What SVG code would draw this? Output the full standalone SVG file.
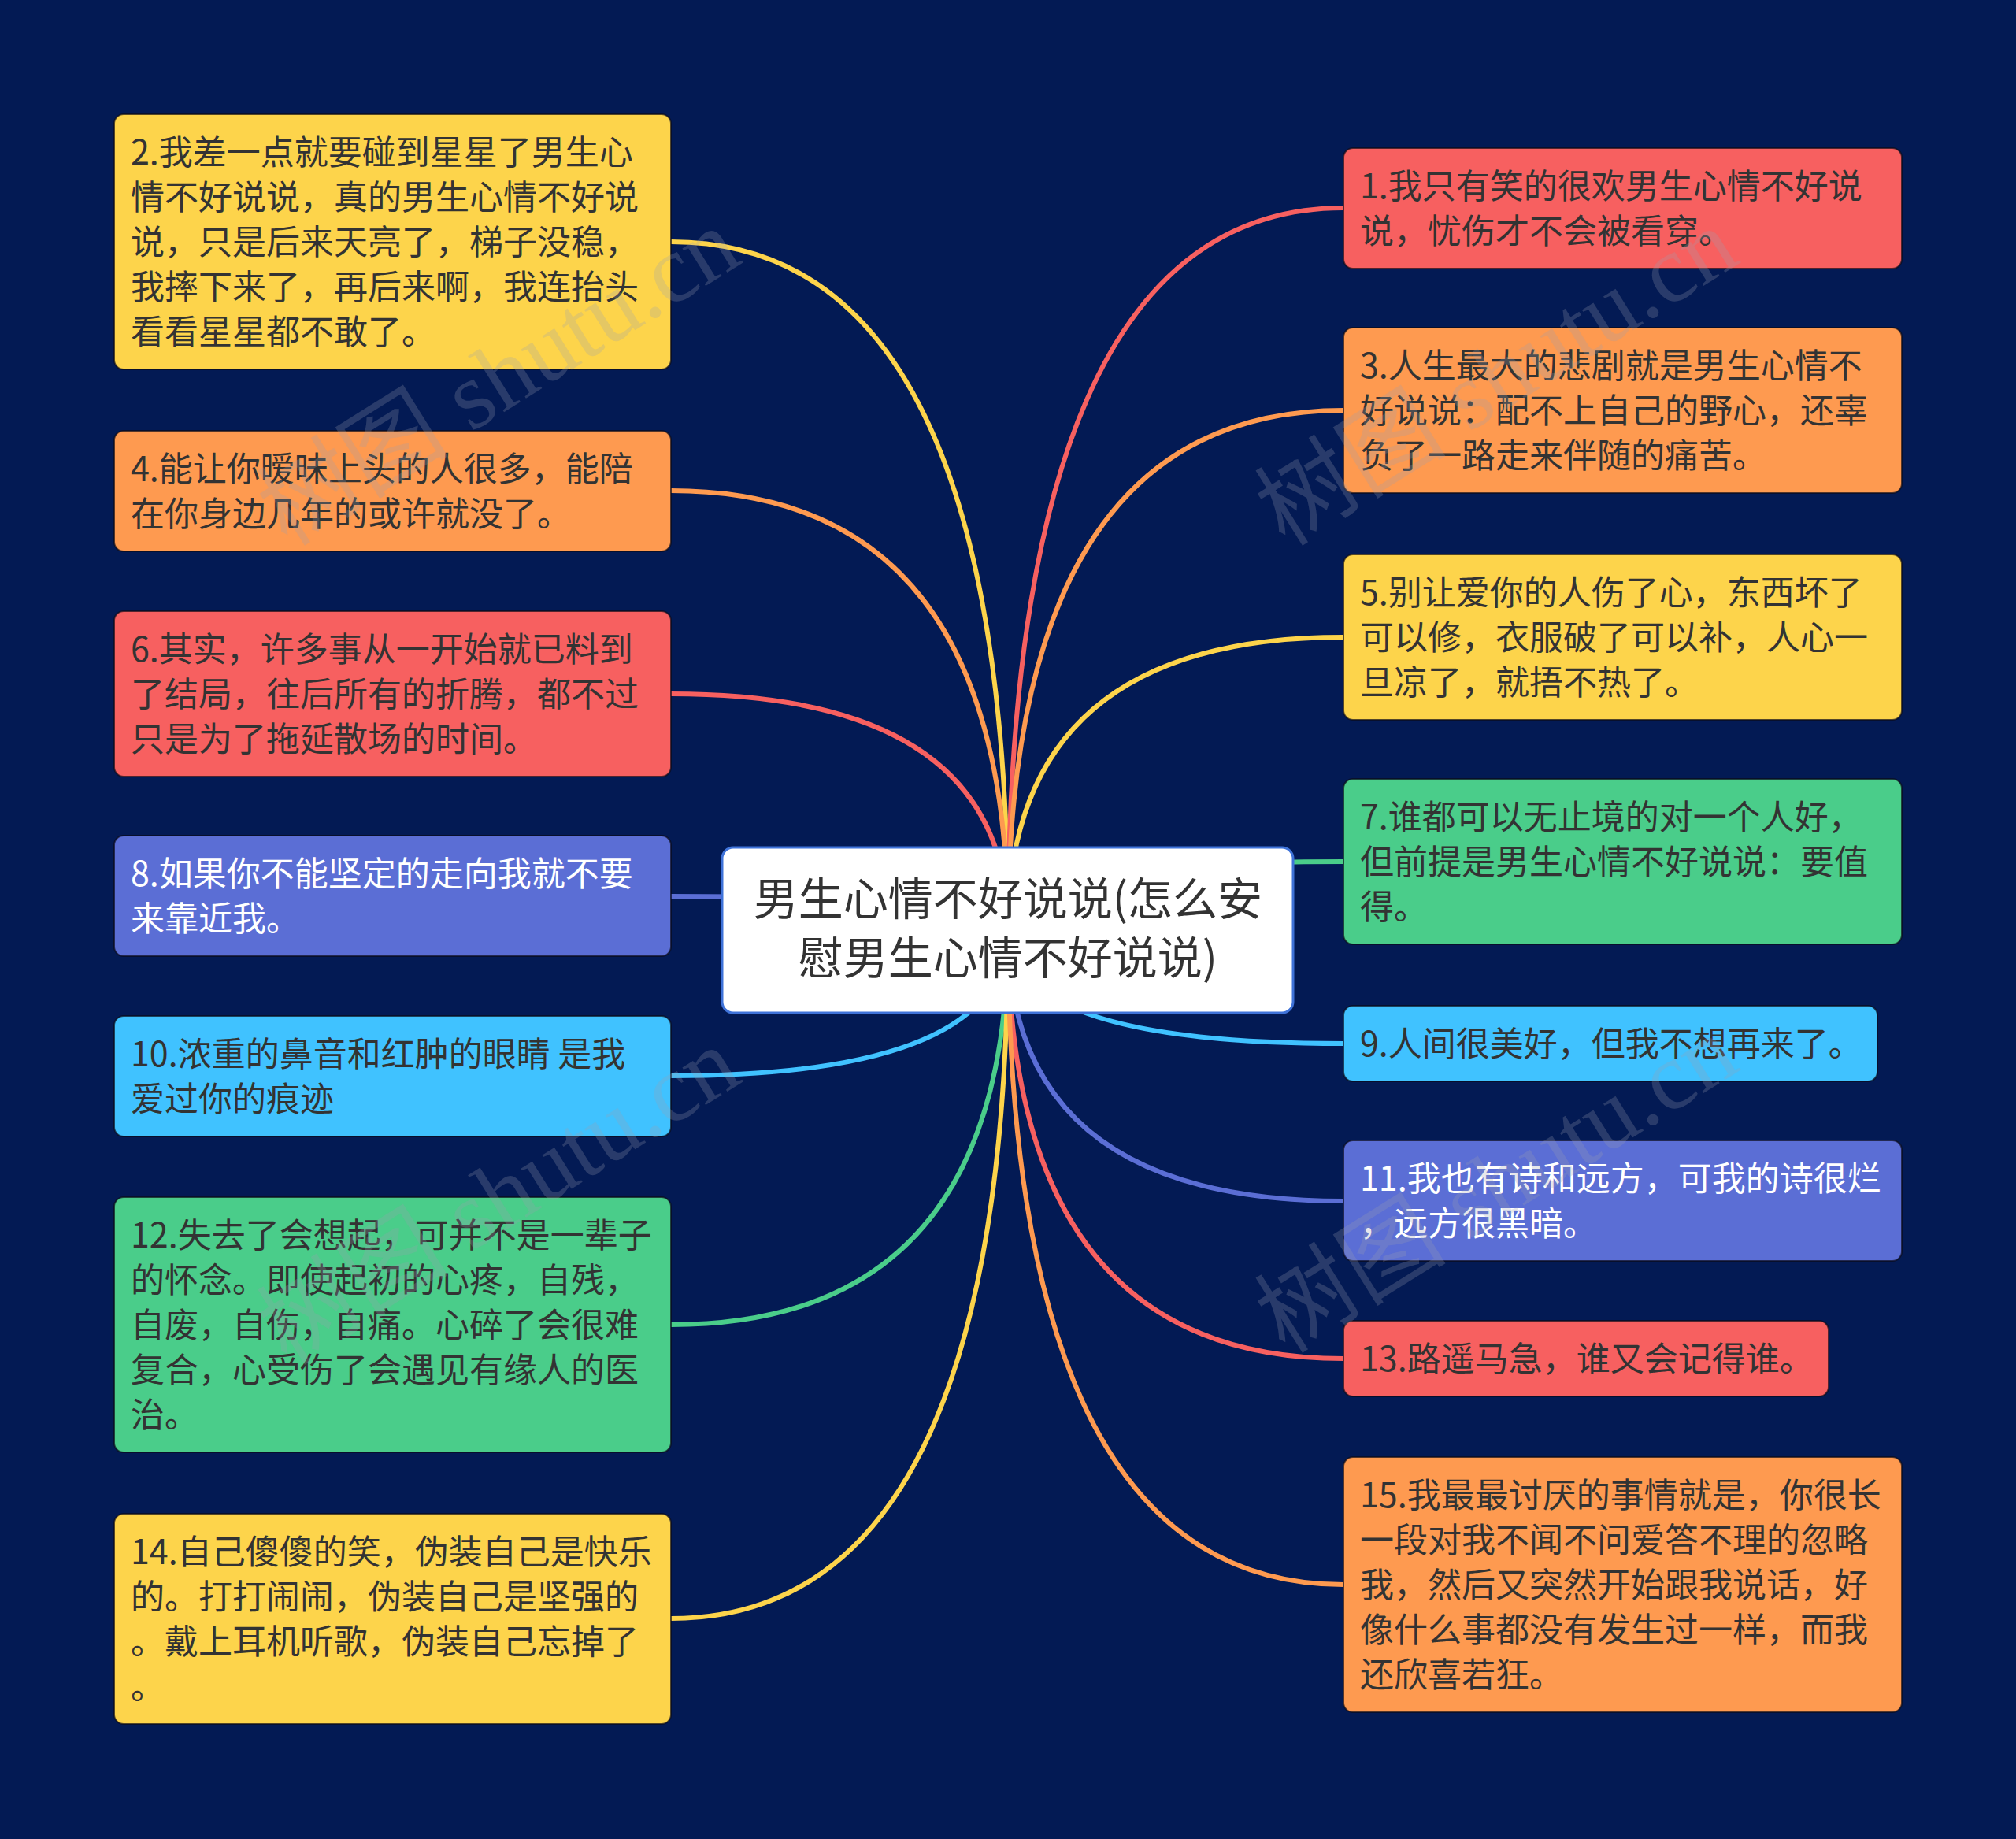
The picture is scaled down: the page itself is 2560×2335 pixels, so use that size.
<svg xmlns="http://www.w3.org/2000/svg" width="2560" height="2335" viewBox="0 0 2560 2335">
<defs>
<style>
.bg{fill:#031a54}
.c{fill:none;stroke-width:6;stroke-linecap:round}
.box{stroke:#0b0b1a;stroke-width:2;stroke-opacity:0.7}
.t{font-family:"Noto Sans CJK SC","Noto Sans",sans-serif;font-size:43px;fill:#333333}
.tw{fill:#ffffff}
.ct{font-family:"Noto Sans CJK SC","Noto Sans",sans-serif;font-size:57px;fill:#333333;text-anchor:middle}
.wm{font-family:"Liberation Serif","Noto Sans CJK SC",serif;font-size:122px;fill:#9aa0b0;fill-opacity:0.25}
.y{fill:#fdd44b}.o{fill:#fe9a50}.r{fill:#f76060}.b{fill:#5b6ed5}.cy{fill:#40c2ff}.g{fill:#4acd8a}
</style>
</defs>
<rect class="bg" x="0" y="0" width="2560" height="2335"/>
<g id="connectors">
<path class="c" stroke="#fdd44b" d="M1280,1181 Q1280,307 852,307"/>
<path class="c" stroke="#fe9a50" d="M1280,1181 Q1280,623 852,623"/>
<path class="c" stroke="#f76060" d="M1280,1181 Q1280,881 852,881"/>
<path class="c" stroke="#5b6ed5" d="M1280,1181 Q1280,1138 852,1138"/>
<path class="c" stroke="#40c2ff" d="M1280,1181 Q1280,1366 852,1366"/>
<path class="c" stroke="#4acd8a" d="M1280,1181 Q1280,1682 852,1682"/>
<path class="c" stroke="#fdd44b" d="M1280,1181 Q1280,2055 852,2055"/>
<path class="c" stroke="#f76060" d="M1280,1181 Q1280,264 1706,264"/>
<path class="c" stroke="#fe9a50" d="M1280,1181 Q1280,521 1706,521"/>
<path class="c" stroke="#fdd44b" d="M1280,1181 Q1280,809 1706,809"/>
<path class="c" stroke="#4acd8a" d="M1280,1181 Q1280,1094 1706,1094"/>
<path class="c" stroke="#40c2ff" d="M1280,1181 Q1280,1325 1706,1325"/>
<path class="c" stroke="#5b6ed5" d="M1280,1181 Q1280,1525 1706,1525"/>
<path class="c" stroke="#f76060" d="M1280,1181 Q1280,1725 1706,1725"/>
<path class="c" stroke="#fe9a50" d="M1280,1181 Q1280,2012 1706,2012"/>
</g>
<g id="center">
<rect x="917" y="1076" width="725" height="210" rx="14" fill="#ffffff" stroke="#3f73d9" stroke-width="3"/>
<text class="ct" x="1280" y="1162">男生心情不好说说(怎么安</text>
<text class="ct" x="1280" y="1237">慰男生心情不好说说)</text>
</g>
<g id="n2">
<rect class="box y" x="145" y="145" width="707" height="324" rx="12"/>
<text class="t"><tspan x="166" y="209">2.我差一点就要碰到星星了男生心</tspan><tspan x="166" y="266">情不好说说，真的男生心情不好说</tspan><tspan x="166" y="323">说，只是后来天亮了，梯子没稳，</tspan><tspan x="166" y="380">我摔下来了，再后来啊，我连抬头</tspan><tspan x="166" y="437">看看星星都不敢了。</tspan></text>
</g>
<g id="n4">
<rect class="box o" x="145" y="547" width="707" height="153" rx="12"/>
<text class="t"><tspan x="166" y="611">4.能让你暧昧上头的人很多，能陪</tspan><tspan x="166" y="668">在你身边几年的或许就没了。</tspan></text>
</g>
<g id="n6">
<rect class="box r" x="145" y="776" width="707" height="210" rx="12"/>
<text class="t"><tspan x="166" y="840">6.其实，许多事从一开始就已料到</tspan><tspan x="166" y="897">了结局，往后所有的折腾，都不过</tspan><tspan x="166" y="954">只是为了拖延散场的时间。</tspan></text>
</g>
<g id="n8">
<rect class="box b" x="145" y="1061" width="707" height="153" rx="12"/>
<text class="t tw"><tspan x="166" y="1125">8.如果你不能坚定的走向我就不要</tspan><tspan x="166" y="1182">来靠近我。</tspan></text>
</g>
<g id="n10">
<rect class="box cy" x="145" y="1290" width="707" height="153" rx="12"/>
<text class="t"><tspan x="166" y="1354">10.浓重的鼻音和红肿的眼睛 是我</tspan><tspan x="166" y="1411">爱过你的痕迹</tspan></text>
</g>
<g id="n12">
<rect class="box g" x="145" y="1520" width="707" height="324" rx="12"/>
<text class="t"><tspan x="166" y="1584">12.失去了会想起，可并不是一辈子</tspan><tspan x="166" y="1641">的怀念。即使起初的心疼，自残，</tspan><tspan x="166" y="1698">自废，自伤，自痛。心碎了会很难</tspan><tspan x="166" y="1755">复合，心受伤了会遇见有缘人的医</tspan><tspan x="166" y="1812">治。</tspan></text>
</g>
<g id="n14">
<rect class="box y" x="145" y="1922" width="707" height="267" rx="12"/>
<text class="t"><tspan x="166" y="1986">14.自己傻傻的笑，伪装自己是快乐</tspan><tspan x="166" y="2043">的。打打闹闹，伪装自己是坚强的</tspan><tspan x="166" y="2100">。戴上耳机听歌，伪装自己忘掉了</tspan><tspan x="166" y="2157">。</tspan></text>
</g>
<g id="n1">
<rect class="box r" x="1706" y="188" width="709" height="153" rx="12"/>
<text class="t"><tspan x="1727" y="252">1.我只有笑的很欢男生心情不好说</tspan><tspan x="1727" y="309">说，忧伤才不会被看穿。</tspan></text>
</g>
<g id="n3">
<rect class="box o" x="1706" y="416" width="709" height="210" rx="12"/>
<text class="t"><tspan x="1727" y="480">3.人生最大的悲剧就是男生心情不</tspan><tspan x="1727" y="537">好说说：配不上自己的野心，还辜</tspan><tspan x="1727" y="594">负了一路走来伴随的痛苦。</tspan></text>
</g>
<g id="n5">
<rect class="box y" x="1706" y="704" width="709" height="210" rx="12"/>
<text class="t"><tspan x="1727" y="768">5.别让爱你的人伤了心，东西坏了</tspan><tspan x="1727" y="825">可以修，衣服破了可以补，人心一</tspan><tspan x="1727" y="882">旦凉了，就捂不热了。</tspan></text>
</g>
<g id="n7">
<rect class="box g" x="1706" y="989" width="709" height="210" rx="12"/>
<text class="t"><tspan x="1727" y="1053">7.谁都可以无止境的对一个人好，</tspan><tspan x="1727" y="1110">但前提是男生心情不好说说：要值</tspan><tspan x="1727" y="1167">得。</tspan></text>
</g>
<g id="n9">
<rect class="box cy" x="1706" y="1277" width="678" height="96" rx="12"/>
<text class="t"><tspan x="1727" y="1341">9.人间很美好，但我不想再来了。</tspan></text>
</g>
<g id="n11">
<rect class="box b" x="1706" y="1448" width="709" height="153" rx="12"/>
<text class="t tw"><tspan x="1727" y="1512">11.我也有诗和远方，可我的诗很烂</tspan><tspan x="1727" y="1569">，远方很黑暗。</tspan></text>
</g>
<g id="n13">
<rect class="box r" x="1706" y="1677" width="616" height="96" rx="12"/>
<text class="t"><tspan x="1727" y="1741">13.路遥马急，谁又会记得谁。</tspan></text>
</g>
<g id="n15">
<rect class="box o" x="1706" y="1850" width="709" height="324" rx="12"/>
<text class="t"><tspan x="1727" y="1914">15.我最最讨厌的事情就是，你很长</tspan><tspan x="1727" y="1971">一段对我不闻不问爱答不理的忽略</tspan><tspan x="1727" y="2028">我，然后又突然开始跟我说话，好</tspan><tspan x="1727" y="2085">像什么事都没有发生过一样，而我</tspan><tspan x="1727" y="2142">还欣喜若狂。</tspan></text>
</g>
<g id="watermarks">
<text class="wm" transform="translate(365,695) rotate(-32)">树图 shutu.cn</text>
<text class="wm" transform="translate(1632,695) rotate(-32)">树图 shutu.cn</text>
<text class="wm" transform="translate(365,1735) rotate(-32)">树图 shutu.cn</text>
<text class="wm" transform="translate(1632,1720) rotate(-32)">树图 shutu.cn</text>
</g>
</svg>
